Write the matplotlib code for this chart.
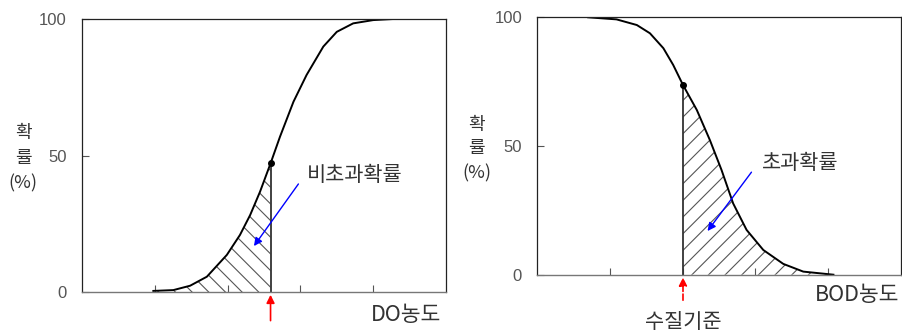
import matplotlib
matplotlib.use("Agg")
import matplotlib.pyplot as plt

plt.rcParams['font.family'] = ['Noto Sans CJK KR', 'DejaVu Sans']
plt.rcParams['hatch.linewidth'] = 0.8

# DO (비초과확률) - 누적확률 곡선
do_x = [1.96, 2.51, 2.97, 3.43, 3.98, 4.34, 4.62, 4.89, 5.18, 5.44, 5.81, 6.17, 6.63, 7.0, 7.45, 8.0, 8.55]
do_y = [0.4, 0.7, 2.3, 5.6, 13.6, 20.9, 28.2, 36.7, 47.1, 56.9, 69.7, 79.5, 89.9, 95.3, 98.4, 99.6, 100.0]
do_thr = 5.18

# BOD (초과확률)
bod_x = [1.40, 2.18, 2.74, 3.10, 3.47, 3.74, 4.01, 4.39, 4.75, 5.07, 5.39, 5.76, 6.22, 6.77, 7.32, 8.15]
bod_y = [100.0, 99.2, 97.0, 93.8, 88.0, 81.5, 73.7, 64.0, 52.3, 40.7, 27.7, 17.4, 9.6, 4.2, 1.2, 0.0]
bod_thr = 4.01

y_ticks = [0, 50, 100]
x_ticks = [2, 4, 6, 8]

fig = plt.figure(figsize=(9.03, 3.31), dpi=100)
ax1 = fig.add_axes([0.0908, 0.1178, 0.4031, 0.8248])
ax2 = fig.add_axes([0.595, 0.1701, 0.4024, 0.7776])

tick_font = dict(family='Liberation Sans', size=12, color='#555555')
txt_color = '#333333'


def setup(ax):
    ax.set_xlim(0, 10)
    ax.set_ylim(0, 100)
    ax.set_xticks(x_ticks)
    ax.set_xticklabels([])
    ax.set_yticks(y_ticks)
    ax.set_yticklabels([str(v) for v in y_ticks], fontdict=tick_font)
    ax.tick_params(direction='in', length=5, width=0.8, color='#555555')
    ax.tick_params(axis='y', pad=11)
    for s in ['top', 'right', 'left']:
        ax.spines[s].set_color('#222222')
        ax.spines[s].set_linewidth(0.9)
    ax.spines['bottom'].set_color('#777777')
    ax.spines['bottom'].set_linewidth(1.0)


# === 왼쪽: DO ===
setup(ax1)
xs = [x for x in do_x if x <= do_thr]
ys = do_y[:len(xs)]
ax1.fill_between(xs, 0, ys, facecolor='none', edgecolor='#555555', hatch='\\\\', linewidth=0)
ax1.plot(do_x, do_y, color='black', lw=1.4)
ax1.vlines(do_thr, 0, ys[-1], color='#333333', lw=1.3)
ax1.plot(do_thr, ys[-1], 'o', color='black', ms=4)
ax1.annotate('', xy=(do_thr, 0), xytext=(do_thr, -11.5), annotation_clip=False,
             arrowprops=dict(arrowstyle='-|>', color='red', lw=1.2, mutation_scale=12))
ax1.annotate('', xy=(4.68, 16.0), xytext=(5.99, 40.4),
             arrowprops=dict(arrowstyle='-|>', color='blue', lw=1.0, mutation_scale=12))
ax1.text(6.18, 43.0, '비초과확률', fontsize=15, color=txt_color, ha='left', va='center')
ax1.text(8.9, -8.4, 'DO농도', fontsize=15.5, color=txt_color, ha='center', va='center')
for yy, s in zip([0.582, 0.491, 0.399], ['확', '률', '(%)']):
    ax1.text(-0.162, yy, s, transform=ax1.transAxes, fontsize=13, color=txt_color,
             ha='center', va='center')

# === 오른쪽: BOD ===
setup(ax2)
xs2 = [x for x in bod_x if x >= bod_thr]
ys2 = bod_y[len(bod_x) - len(xs2):]
ax2.fill_between(xs2, 0, ys2, facecolor='none', edgecolor='#555555', hatch='//', linewidth=0)
ax2.plot(bod_x, bod_y, color='black', lw=1.4)
ax2.vlines(bod_thr, 0, ys2[0], color='#333333', lw=1.3)
ax2.plot(bod_thr, ys2[0], 'o', color='black', ms=4)
ax2.annotate('', xy=(bod_thr, 0), xytext=(bod_thr, -11), annotation_clip=False,
             arrowprops=dict(arrowstyle='-|>', color='red', lw=1.2, ls='--', mutation_scale=12))
ax2.annotate('', xy=(4.64, 16.1), xytext=(5.94, 40.7),
             arrowprops=dict(arrowstyle='-|>', color='blue', lw=1.0, mutation_scale=12))
ax2.text(6.17, 43.4, '초과확률', fontsize=15, color=txt_color, ha='left', va='center')
ax2.text(8.8, -7.9, 'BOD농도', fontsize=15.5, color=txt_color, ha='center', va='center')
ax2.text(bod_thr, -18.3, '수질기준', fontsize=15, color=txt_color, ha='center', va='center')
for yy, s in zip([0.582, 0.492, 0.395], ['확', '률', '(%)']):
    ax2.text(-0.167, yy, s, transform=ax2.transAxes, fontsize=13, color=txt_color,
             ha='center', va='center')

fig.savefig('out.png', dpi=100)
